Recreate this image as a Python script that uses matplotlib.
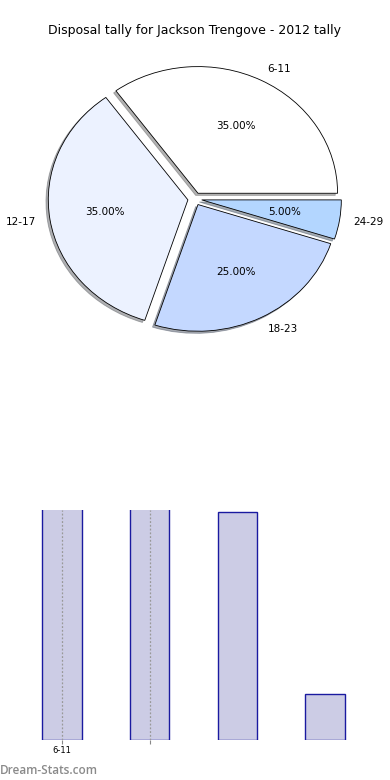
import matplotlib.pyplot as plt
import numpy as np

categories = ['6-11', '12-17', '18-23', '24-29']
counts = [7, 7, 5, 1]
pie_colors = ['#ffffff', '#ecf2ff', '#c4d8ff', '#b3d6ff']

fig = plt.figure(figsize=(3.9, 7.8), dpi=100)

# pie on top
ax1 = fig.add_axes([0.052, 0.542, 0.895, 0.406])
wedges, texts, autotexts = ax1.pie(counts, labels=categories, colors=pie_colors,
                                   explode=[0.05]*4, autopct='%.2f%%',
                                   shadow={'ox': -0.012, 'oy': -0.012, 'shade': 0.6},
                                   startangle=0, counterclock=True,
                                   wedgeprops={'edgecolor': 'black', 'linewidth': 0.6},
                                   textprops={'fontsize': 7.5})
ax1.set_aspect('auto')
ax1.set_xlim(-1.25, 1.25)
ax1.set_ylim(-1.25, 1.25)
ax1.set_title('Disposal tally for Jackson Trengove - 2012 tally', fontsize=9, pad=5)

# bars below
ax2 = fig.add_axes([0.046, 0.0513, 0.9, 0.295])
x = np.arange(len(counts))
ax2.bar(x, counts, width=0.45, color='#ccccE5', edgecolor='#1a1aa0', linewidth=1, zorder=1)
ax2.set_xlim(-0.5, 3.5)
ax2.set_ylim(0, 5.04)
ax2.set_xticks([0, 1])
ax2.set_xticklabels([categories[0], ''], fontsize=6)
ax2.set_yticks([])
ax2.tick_params(axis='x', length=3, color='#888888', pad=1)
ax2.grid(axis='x', linestyle=(0, (1.5, 1.5)), color='#999999', linewidth=0.9, zorder=3)
ax2.set_axisbelow(False)
for s in ax2.spines.values():
    s.set_visible(False)

fig.text(0.0, 0.0128, 'Dream-Stats.com', color='#8a8a8a', fontsize=8.5,
         family=['Open Sans', 'DejaVu Sans'], fontweight='semibold',
         va='center', ha='left')

fig.savefig('out.png', dpi=100)
